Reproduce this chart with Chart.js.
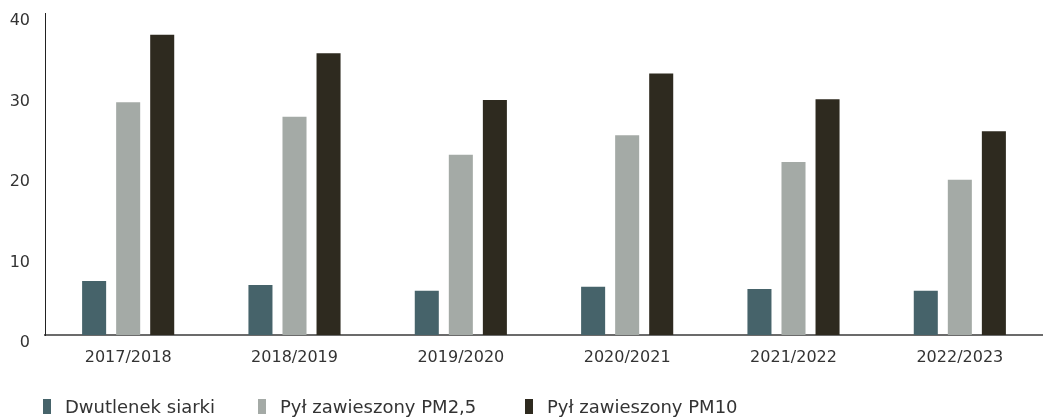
<!DOCTYPE html>
<html><head><meta charset="utf-8">
<script src="https://cdn.jsdelivr.net/npm/chart.js@4/dist/chart.umd.min.js"></script>
<style>html,body{margin:0;padding:0;background:#fff}#wrap{width:1043px;height:417px;position:relative}</style>
</head><body><div id="wrap"><canvas id="c"></canvas></div>
<script>
const categories = ["2017/2018","2018/2019","2019/2020","2020/2021","2021/2022","2022/2023"];
const seriesNames = ["Dwutlenek siarki","Pył zawieszony PM2,5","Pył zawieszony PM10"];
const so2 = [6.7, 6.2, 5.5, 6.0, 5.7, 5.5];
const pm25 = [28.9, 27.1, 22.4, 24.8, 21.5, 19.3];
const pm10 = [37.3, 35.0, 29.2, 32.5, 29.3, 25.3];
const yTicks = [0, 10, 20, 30, 40];
const colors = ["#46636a", "#a4aaa6", "#2e2a1f"];

const FONT = "'DejaVu Sans', sans-serif";
const TEXT = "#333333";

const legendPlugin = {
  id: 'customLegend',
  afterDraw(chart) {
    const ctx = chart.ctx;
    ctx.save();
    ctx.font = "18px " + FONT;
    ctx.textBaseline = 'alphabetic';
    const starts = [43, 258, 525];
    const yTop = 399, bh = 15, bw = 8;
    chart.data.datasets.forEach((ds, i) => {
      const x = starts[i];
      ctx.fillStyle = ds.backgroundColor;
      ctx.fillRect(x, yTop, bw, bh);
      ctx.fillStyle = TEXT;
      ctx.fillText(ds.label, x + bw + 14, yTop + bh - 1);
    });
    ctx.restore();
  }
};

const data = {
  labels: categories,
  datasets: [
    { label: seriesNames[0], data: so2, backgroundColor: colors[0] },
    { label: seriesNames[1], data: pm25, backgroundColor: colors[1] },
    { label: seriesNames[2], data: pm10, backgroundColor: colors[2] }
  ]
};

new Chart(document.getElementById('c'), {
  type: 'bar',
  data,
  plugins: [legendPlugin],
  options: {
    responsive: true,
    maintainAspectRatio: false,
    animation: false,
    layout: { padding: { top: 13, right: 0, bottom: 52, left: 0 } },
    datasets: { bar: { categoryPercentage: 0.614, barPercentage: 0.706, borderWidth: 0 } },
    plugins: { legend: { display: false }, tooltip: { enabled: false } },
    scales: {
      x: {
        grid: { display: false, drawTicks: false },
        border: { display: true, color: '#6b6b6b', width: 2 },
        ticks: { color: TEXT, font: { family: FONT, size: 16 }, padding: 13, maxRotation: 0 },
        afterFit(s) { s.height = 30; s.paddingLeft = 0; s.paddingRight = 0; }
      },
      y: {
        min: 0, max: 40,
        grid: { display: false, drawTicks: false },
        border: { display: true, color: '#222222', width: 1 },
        afterBuildTicks(s) { s.ticks = yTicks.map(v => ({ value: v })); },
        ticks: { color: TEXT, font: { family: FONT, size: 16 }, padding: 15, labelOffset: 8 },
        afterFit(s) { s.width = 45; s.paddingTop = 0; s.paddingBottom = 0; }
      }
    }
  }
});
</script></body></html>
